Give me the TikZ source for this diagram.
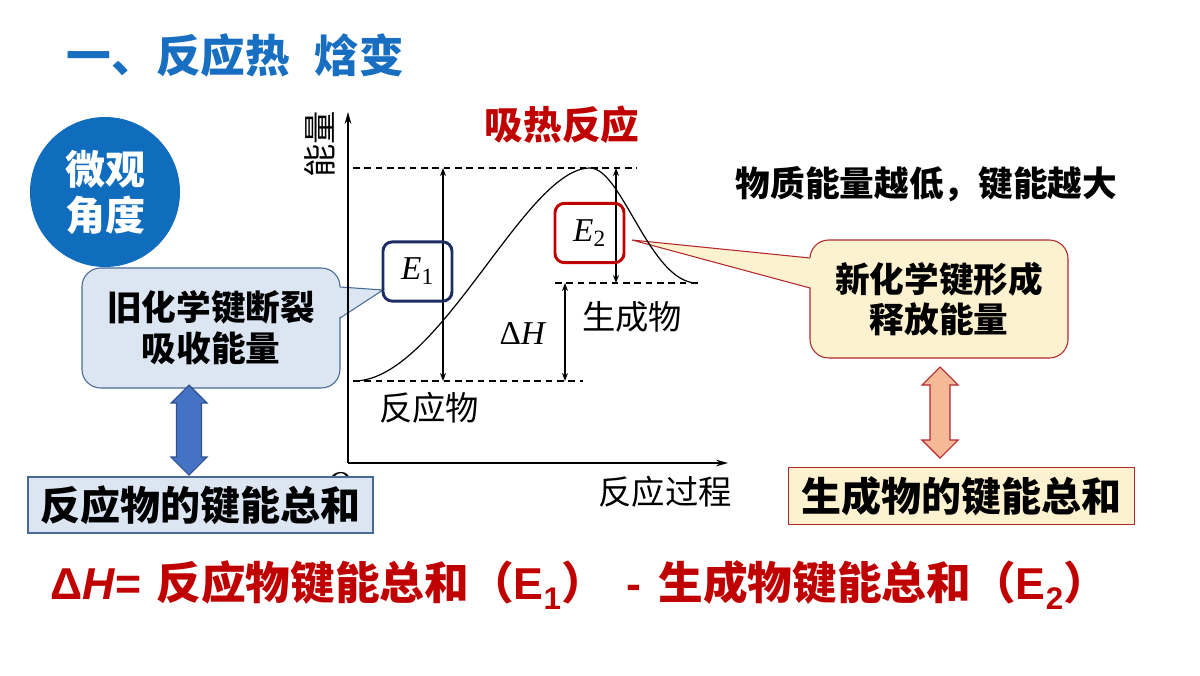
\documentclass[tikz,border=0pt]{standalone}
\usepackage{fontspec}
\setmainfont{Liberation Serif}
\newfontfamily\hei{Noto Sans CJK SC}
\newfontfamily\lsans{Liberation Sans}
\usetikzlibrary{arrows.meta,positioning,calc}

\definecolor{titleblue}{RGB}{24,110,192}
\definecolor{circblue}{RGB}{16,108,188}
\definecolor{paleblue}{RGB}{220,230,242}
\definecolor{edgeblue}{RGB}{72,106,150}
\definecolor{arrblue}{RGB}{68,114,196}
\definecolor{arrblueedge}{RGB}{47,82,143}
\definecolor{paleyellow}{RGB}{253,242,208}
\definecolor{edgered}{RGB}{180,40,44}
\definecolor{salmon}{RGB}{245,185,152}
\definecolor{darkred}{RGB}{192,0,0}
\definecolor{navy}{RGB}{30,44,100}

% block arrow with two heads: style, top tip, bottom tip, half shaft width
\newcommand\fatarrow[4]{%
  \draw[#1] (#2) -- ++(18,18) -- ++({-18+#4},0) -- ($(#3)+(#4,-18)$)
    -- ++({18-#4},0) -- (#3) -- ++(-18,-18) -- ++({18-#4},0)
    -- ($(#2)+(-#4,18)$) -- ++({-18+#4},0) -- cycle;}

\begin{document}
\begin{tikzpicture}[
        x=0.75pt, y=-0.75pt,
        title/.style={
            anchor=west,
            text=titleblue,
            font=\hei\bfseries\fontsize{33.5}{40}\selectfont
        },
        micro/.style={
            circle,
            fill=circblue,
            minimum size=112.5pt,
            inner sep=0pt,
            align=center,
            text=white,
            font=\hei\bfseries\fontsize{30}{34.5}\selectfont
        },
        callout/.style={
            rectangle,
            rounded corners=14pt,
            line width=0.8pt,
            minimum width=193.5pt,
            align=center,
            font=\hei\bfseries\fontsize{26}{31}\selectfont
        },
        sumbox/.style={
            rectangle,
            line width=0.8pt,
            minimum width=260pt,
            minimum height=43pt,
            font=\hei\bfseries\fontsize{30}{36}\selectfont
        },
        ebox/.style={
            rectangle,
            rounded corners=7pt,
            line width=2.2pt,
            minimum width=51.75pt,
            minimum height=44.5pt,
            font=\fontsize{25}{30}\selectfont
        },
        glabel/.style={font=\hei\fontsize{25}{30}\selectfont},
        axis/.style={line width=1pt, -{Stealth[length=9pt, width=5pt]}},
        level/.style={line width=0.8pt, dash pattern=on 5pt off 3.5pt},
        dim/.style={line width=0.8pt, {Stealth[length=6pt, width=4.5pt]}-{Stealth[length=6pt, width=4.5pt]}},
        pointer/.style={line width=0.8pt}
    ]
    \useasboundingbox (0,0) rectangle (1200,675);

    % -- title and circle --
    \node [title] (head) at (62,55) {一、反应热\hspace{0.55em}焓变};
    \node [micro] (view) at (105,192) {微观\\角度};

    % -- left: bonds broken --
    \node [callout, draw=edgeblue, fill=paleblue, minimum height=90pt] (lcall) at (211,328) {旧化学键断裂\\吸收能量};
    \fill [paleblue] (338,287) -- (383,290) -- (338,318) -- cycle;
    \draw [pointer, edgeblue] (340,287) -- (383,290) -- (340,318);

    \node [font=\fontsize{25}{30}\selectfont\itshape] (orig) at (339,484) {O};
    \node [sumbox, draw=edgeblue, fill=paleblue, minimum width=258.75pt, minimum height=42pt] (lbox) at (200.5,505) {反应物的键能总和};
    \coordinate (la1) at (189,385);
    \coordinate (la2) at (189,475);
    \fatarrow{fill=arrblue, draw=arrblueedge, line width=0.8pt}{la1}{la2}{12.5}

    % -- right: bonds formed --
    \node [callout, draw=edgered, fill=paleyellow, minimum height=88.5pt, font=\hei\bfseries\fontsize{26}{30}\selectfont] (rcall) at (939,299) {新化学键形成\\释放能量};
    \fill [paleyellow] (812,258) -- (632,240) -- (812,288) -- cycle;
    \draw [pointer, edgered] (810,258) -- (632,240) -- (810,288);

    \node [sumbox, draw=edgered, fill=paleyellow] (rbox) at (961.5,496) {生成物的键能总和};
    \coordinate (ra1) at (940,367);
    \coordinate (ra2) at (940,458);
    \fatarrow{fill=salmon, draw=edgered, line width=0.8pt}{ra1}{ra2}{10}

    \node [anchor=west, font=\hei\bfseries\fontsize{26}{31}\selectfont] (rule) at (731,184) {物质能量越低，键能越大};

    % -- energy diagram --
    \coordinate (O) at (348,463);
    \draw [axis] (O) -- (348,112);
    \draw [axis] (O) -- (728,463);
    \node [glabel, rotate=90] (ylab) at (320,144) {能量};
    \node [glabel] (xlab) at (665,492) {反应过程};
    \node [font=\hei\bfseries\fontsize{29}{34}\selectfont, text=darkred] (kind) at (562,125) {吸热反应};

    \coordinate (hiL) at (353,168);
    \coordinate (hiR) at (637,168);
    \coordinate (reL) at (353,381);
    \coordinate (reR) at (583,381);
    \coordinate (prL) at (555,283);
    \coordinate (prR) at (702,283);
    \draw [level] (hiL) -- (hiR);
    \draw [level] (reL) -- (reR);
    \draw [level] (prL) -- (prR);

    \coordinate (peak) at (590,168);
    \draw [line width=0.9pt] (355,381) .. controls (440,379) and (525,168) .. (peak)
        .. controls (622,168) and (650,283) .. (697,283);

    \draw [dim] (443,168) -- (443,381);
    \draw [dim] (616,168) -- (616,283);
    \draw [dim] (565,283) -- (565,381);

    \node [ebox, draw=navy] (e1) at (417.5,271.5) {\textit{E}\textsubscript{1}};
    \node [ebox, draw=darkred] (e2) at (589.5,233) {\textit{E}\textsubscript{2}};

    \node [font=\fontsize{25}{30}\selectfont] (dh) at (523,333) {Δ\textit{H}};
    \node [glabel] (react) at (429,408) {反应物};
    \node [glabel] (prod) at (632,317) {生成物};

    % -- formula --
    \node [anchor=west, text=darkred, font=\hei\bfseries\fontsize{33.5}{38}\selectfont] (formula) at (46,585)
        {{\lsans Δ\textit{H}=}\hspace{11pt}反应物键能总和（{\lsans E\textsubscript{1}}）\hspace{15pt}{\lsans -}\hspace{13pt}生成物键能总和（{\lsans E\textsubscript{2}}）};
\end{tikzpicture}
\end{document}
